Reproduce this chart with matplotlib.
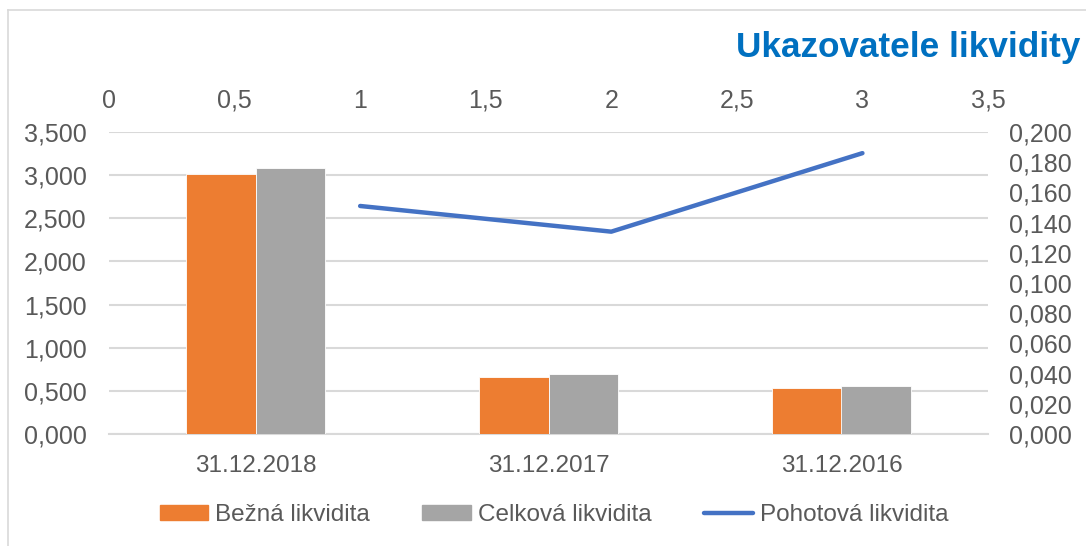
import numpy as np
import matplotlib.pyplot as plt
from matplotlib.patches import Patch
from matplotlib.lines import Line2D
from matplotlib.ticker import FuncFormatter

plt.rcParams['font.family'] = ['Liberation Sans', 'DejaVu Sans']

# data
kategorie = ['31.12.2018', '31.12.2017', '31.12.2016']
bezna = [3.010, 0.665, 0.530]
celkova = [3.085, 0.695, 0.560]
pohotova_x = [1, 2, 3]
pohotova = [0.151, 0.134, 0.186]

txt_col = '#595959'
grid_col = '#D9D9D9'

fig = plt.figure(figsize=(10.86, 5.46), dpi=100)
pos = [109/1086, 1-434/546, (988-109)/1086, (434-132)/546]

# hlavna os - stlpce
ax = fig.add_axes(pos)
x = np.arange(len(kategorie))
w = 0.238
ax.bar(x - w/2, bezna, w, color='#ED7D31', edgecolor='white', linewidth=0.6, zorder=3)
ax.bar(x + w/2, celkova, w, color='#A5A5A5', edgecolor='white', linewidth=0.6, zorder=3)
ax.set_xlim(-0.5, 2.5)
ax.set_ylim(0, 3.5)
ax.set_yticks(np.arange(0, 3.51, 0.5))
ax.yaxis.set_major_formatter(FuncFormatter(lambda v, p: ('%.3f' % v).replace('.', ',')))
ax.set_xticks(x)
ax.set_xticklabels(kategorie)
ax.grid(axis='y', color=grid_col, linewidth=1.5, zorder=0)
for s in ['top', 'right', 'left']:
    ax.spines[s].set_visible(False)
ax.spines['bottom'].set_color(grid_col)
ax.spines['bottom'].set_linewidth(1.5)
ax.tick_params(length=0, colors=txt_col, labelsize=17.5)
ax.tick_params(axis='y', pad=16, labelsize=18)
ax.tick_params(axis='x', pad=15)

# vedlajsia os - ciara
ax2 = fig.add_axes(pos, frameon=False)
ax2.plot(pohotova_x, pohotova, color='#4472C4', linewidth=3.2, solid_capstyle='round', zorder=4)
ax2.set_xlim(0, 3.5)
ax2.set_ylim(0, 0.2)
ax2.set_xticks(np.arange(0, 3.51, 0.5))
ax2.xaxis.set_major_formatter(FuncFormatter(lambda v, p: ('%g' % v).replace('.', ',')))
ax2.set_yticks(np.arange(0, 0.201, 0.02))
ax2.yaxis.set_major_formatter(FuncFormatter(lambda v, p: ('%.3f' % v).replace('.', ',')))
ax2.xaxis.tick_top()
ax2.yaxis.tick_right()
ax2.tick_params(length=0, colors=txt_col, labelsize=18)
ax2.tick_params(axis='x', pad=14)
ax2.tick_params(axis='y', pad=15)

fig.text(1080/1086, 1-47/546, 'Ukazovatele likvidity', ha='right', va='center',
         fontsize=25.3, fontweight='bold', color='#0070C0')

# ramik grafu
fig.add_artist(Line2D([8/1086, 8/1086], [0, 1-10/546], color=grid_col, linewidth=1.2))
fig.add_artist(Line2D([8/1086, 1], [1-10/546, 1-10/546], color=grid_col, linewidth=1.2))

handles = [Patch(color='#ED7D31'), Patch(color='#A5A5A5'),
           Line2D([0], [0], color='#4472C4', linewidth=3.2, solid_capstyle='round')]
labels = ['Bežná likvidita', 'Celková likvidita', 'Pohotová likvidita']
leg = fig.legend(handles, labels, loc='center', bbox_to_anchor=(554/1086, 1-515/546), ncol=3,
                 frameon=False, fontsize=17.5, handlelength=2.0, handleheight=0.62,
                 handletextpad=0.29, columnspacing=2.15, labelcolor=txt_col)

fig.savefig('out.png', dpi=100)
